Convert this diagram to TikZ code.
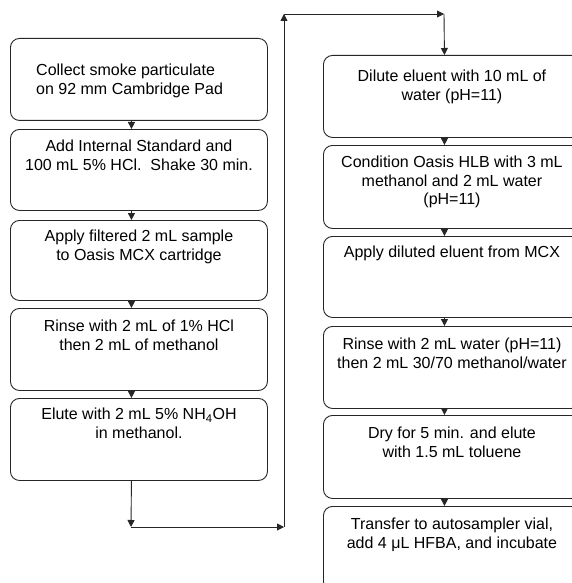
\documentclass[tikz,border=0pt]{standalone}
\usepackage{fontspec}
\setmainfont{Liberation Sans}
\usetikzlibrary{arrows.meta}
\begin{document}
\begin{tikzpicture}[x=1pt,y=-1pt,
  box/.style={draw=black!85, line width=0.9pt, rounded corners=9pt, minimum width=257pt, inner sep=0pt, anchor=north west},
  txt/.style={font=\fontsize{16}{18.5}\selectfont, align=center, inner sep=0pt, anchor=north},
  arr/.style={-{Triangle[length=7pt,width=7pt]}, line width=0.9pt, draw=black!85}]
\clip (0,0) rectangle (572,583);
\fill[white] (0,0) rectangle (572,583);
% left column
\node[box, minimum height=82pt] (L1) at (10,38) {};
\node[box, minimum height=81pt] (L2) at (10,129) {};
\node[box, minimum height=80pt] (L3) at (10,220) {};
\node[box, minimum height=82pt] (L4) at (10,308) {};
\node[box, minimum height=82pt] (L5) at (10,398) {};
% right column
\node[box, minimum height=82pt] (R1) at (323,55) {};
\node[box, minimum height=83pt] (R2) at (323,145) {};
\node[box, minimum height=81pt] (R3) at (323,236) {};
\node[box, minimum height=82pt] (R4) at (323,326) {};
\node[box, minimum height=83pt] (R5) at (323,415) {};
\node[box, minimum height=84pt] (R6) at (323,506) {};
% texts
\node[txt, align=left, anchor=north west] (T1) at (36,64) {Collect smoke particulate\\on 92 mm Cambridge Pad};
\node[txt] (T2) at ([yshift=-11pt]L2.north) {Add Internal Standard and\\100 mL 5\% HCl.\ \ Shake 30 min.};
\node[txt] (T3) at ([yshift=-10pt]L3.north) {Apply filtered 2 mL sample\\to Oasis MCX cartridge};
\node[txt] (T4) at ([yshift=-12pt]L4.north) {Rinse with 2 mL of 1\% HCl\\then 2 mL of methanol};
\node[txt] (T5) at ([yshift=-10pt]L5.north) {Elute with 2 mL 5\% NH\textsubscript{4}OH\\in methanol.};
\node[txt] (U1) at ([yshift=-15pt]R1.north) {Dilute eluent with 10 mL of\\water (pH=11)};
\node[txt] (U2) at ([yshift=-11pt]R2.north) {Condition Oasis HLB with 3 mL\\methanol and 2 mL water\\(pH=11)};
\node[txt] (U3) at ([yshift=-10pt]R3.north) {Apply diluted eluent from MCX};
\node[txt] (U4) at ([yshift=-12pt]R4.north) {Rinse with 2 mL water (pH=11)\\then 2 mL 30/70 methanol/water};
\node[txt] (U5) at ([yshift=-12pt]R5.north) {Dry for 5 min. and elute\\with 1.5 mL toluene};
\node[txt] (U6) at ([yshift=-12pt]R6.north) {Transfer to autosampler vial,\\add 4 μL HFBA, and incubate};
% arrows between boxes
\foreach \a/\b in {L1/L2,L2/L3,L3/L4,L4/L5,R1/R2,R2/R3,R3/R4,R4/R5,R5/R6}
  \draw[arr] ([xshift=-7.5pt]\a.south) -- ([xshift=-7.5pt]\b.north);
% transfer connector
\coordinate (c1) at (131,527);
\coordinate (c2) at (284,527);
\coordinate (c3) at (284,14);
\coordinate (c4) at (444,14);
\draw[arr] ([xshift=-7.5pt]L5.south) -- (c1);
\draw[arr] (c1) -- (c2);
\draw[arr] (c2) -- (c3);
\draw[arr] (c3) -- (c4);
\draw[arr] (c4) -- ([xshift=-7.5pt]R1.north);
\end{tikzpicture}
\end{document}
